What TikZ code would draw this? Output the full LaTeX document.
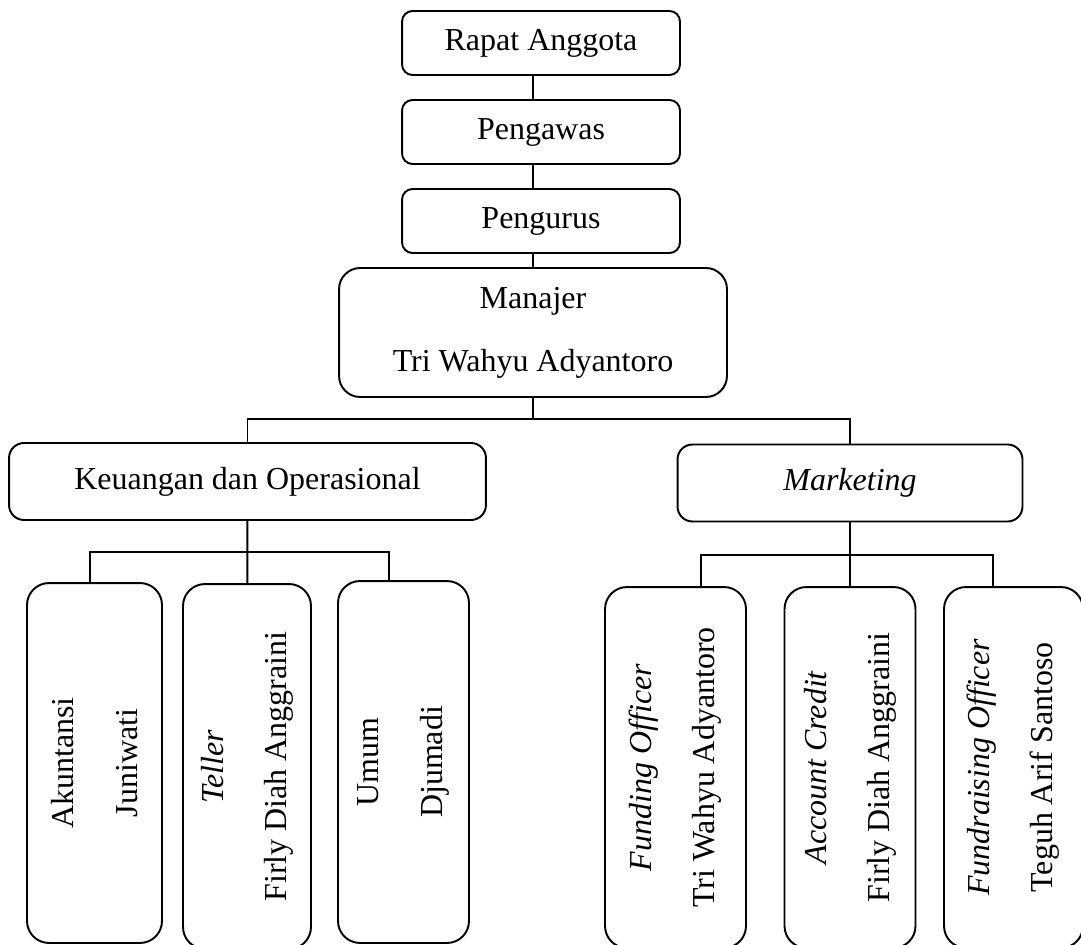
\documentclass[tikz,border=0pt]{standalone}
\usepackage{fontspec}
\setmainfont{Liberation Serif}
\usetikzlibrary{positioning}

\begin{document}
\begin{tikzpicture}[
    x=0.02cm, y=-0.02cm,
    line width=1.1pt,
    org/.style={rectangle,draw,align=center,
                font=\fontsize{18.2}{36}\selectfont},
    lvl/.style={org,rounded corners=6pt,minimum width=5.56cm,
                minimum height=1.28cm},
    unit/.style={org,rounded corners=8.5pt,minimum height=1.54cm},
    staff/.style={org,rotate=90,rounded corners=12.5pt,
                  minimum width=7.22cm}
  ]
    \useasboundingbox (0,0) rectangle (1081,945);
    \node[lvl] (rapat) at (541,43) {Rapat Anggota};
    \node[lvl] (pengawas) at (541,132) {Pengawas};
    \node[lvl] (pengurus) at (541,221) {Pengurus};
    \node[org,rounded corners=12pt,minimum width=7.76cm,
          minimum height=2.58cm] (manajer) at (533,332.5) {
      Manajer\\
      Tri Wahyu Adyantoro
    };
    \node[unit,minimum width=9.54cm] (keu) at (247.5,481.5)
      {Keuangan dan Operasional};
    \node[unit,minimum width=6.9cm] (mkt) at (850,483)
      {\textit{Marketing}};
    \node[staff,minimum height=2.7cm,minimum width=7.2cm] (akun)
      at (94.5,763) {Akuntansi\\Juniwati};
    \node[staff,minimum height=2.56cm,minimum width=7.3cm] (teller)
      at (247,766.5) {\textit{Teller}\\Firly Diah Anggraini};
    \node[staff,minimum height=2.62cm,minimum width=7.24cm] (umum)
      at (403.5,762) {Umum\\Djumadi};
    \node[staff,minimum height=2.82cm] (fund) at (675.5,767.5)
      {\textit{Funding Officer}\\Tri Wahyu Adyantoro};
    \node[staff,minimum height=2.62cm] (acc) at (850,767.5)
      {\textit{Account Credit}\\Firly Diah Anggraini};
    \node[staff,minimum height=2.78cm] (fr) at (1013.5,767.5)
      {\textit{Fundraising Officer}\\Teguh Arif Santoso};
    \coordinate (bus1) at (533,419);
    \coordinate (bus2) at (247,552);
    \coordinate (bus3) at (850,555);
    \draw (rapat.south -| manajer) -- (pengawas.north -| manajer);
    \draw (pengawas.south -| manajer) -- (pengurus.north -| manajer);
    \draw (pengurus.south -| manajer) -- (manajer);
    \draw (manajer) -- (bus1);
    \draw (keu) |- (bus1) -| (mkt);
    \draw (keu) -- (teller);
    \draw ([xshift=-0.09cm]akun.east) |- (bus2) -| ([xshift=-0.29cm]umum.east);
    \draw (mkt) -- (acc);
    \draw ([xshift=0.51cm]fund.east) |- (bus3) -| ([xshift=-0.41cm]fr.east);
  \end{tikzpicture}
\end{document}
